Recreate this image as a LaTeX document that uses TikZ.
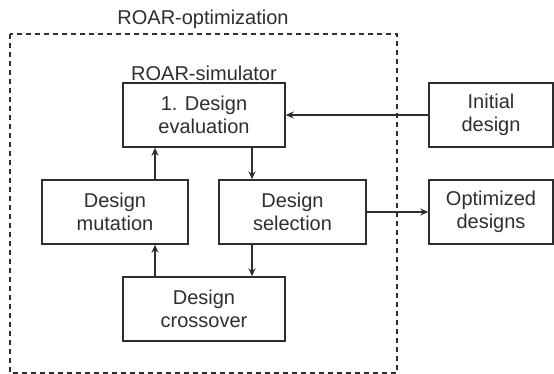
\documentclass[tikz,border=0pt]{standalone}
\usepackage{fontspec}
\setmainfont{Liberation Sans}
\usetikzlibrary{arrows.meta}
\definecolor{ink}{HTML}{2E2E2E}
\begin{document}
\begin{tikzpicture}[x=1pt,y=-1pt,
  every node/.style={font=\fontsize{20}{23.5}\selectfont, text=ink},
  stagebox/.style={draw=ink, line width=1.4pt, align=center, inner sep=0pt,
    minimum height=64pt},
  link/.style={draw=ink, line width=1.4pt, -{Stealth[length=8pt,width=7pt]}},
  frame/.style={draw=ink, line width=1.4pt, dash pattern=on 5pt off 4pt}]
  \useasboundingbox (0,0) rectangle (554,374);

  % outer optimisation loop
  \draw[frame] (10,34) rectangle (397,373);
  \node (optlabel) at (203,19) {ROAR-optimization};
  \node (simlabel) at (204,73) {ROAR-simulator};

  % stages of the loop
  \node[stagebox, minimum width=162pt] (eval) at (204,115) {1. Design\\evaluation};
  \node[stagebox, minimum width=146pt] (mut) at (115,212) {Design\\mutation};
  \node[stagebox, minimum width=147pt] (sel) at (292.5,212) {Design\\selection};
  \node[stagebox, minimum width=162pt] (cross) at (204,309) {Design\\crossover};

  % input and output
  \node[stagebox, minimum width=124pt] (init) at (491,115) {Initial\\design};
  \node[stagebox, minimum width=124pt] (opt) at (491,212) {Optimized\\designs};

  % columns used by the vertical connectors
  \coordinate (colL) at (155,0);
  \coordinate (colR) at (252,0);

  \draw[link] (init.west) -- (eval.east);
  \draw[link] (eval.south -| colR) -- (sel.north -| colR);
  \draw[link] (sel.east) -- (opt.west);
  \draw[link] (sel.south -| colR) -- (cross.north -| colR);
  \draw[link] (cross.north -| colL) -- (mut.south -| colL);
  \draw[link] (mut.north -| colL) -- (eval.south -| colL);
\end{tikzpicture}
\end{document}
